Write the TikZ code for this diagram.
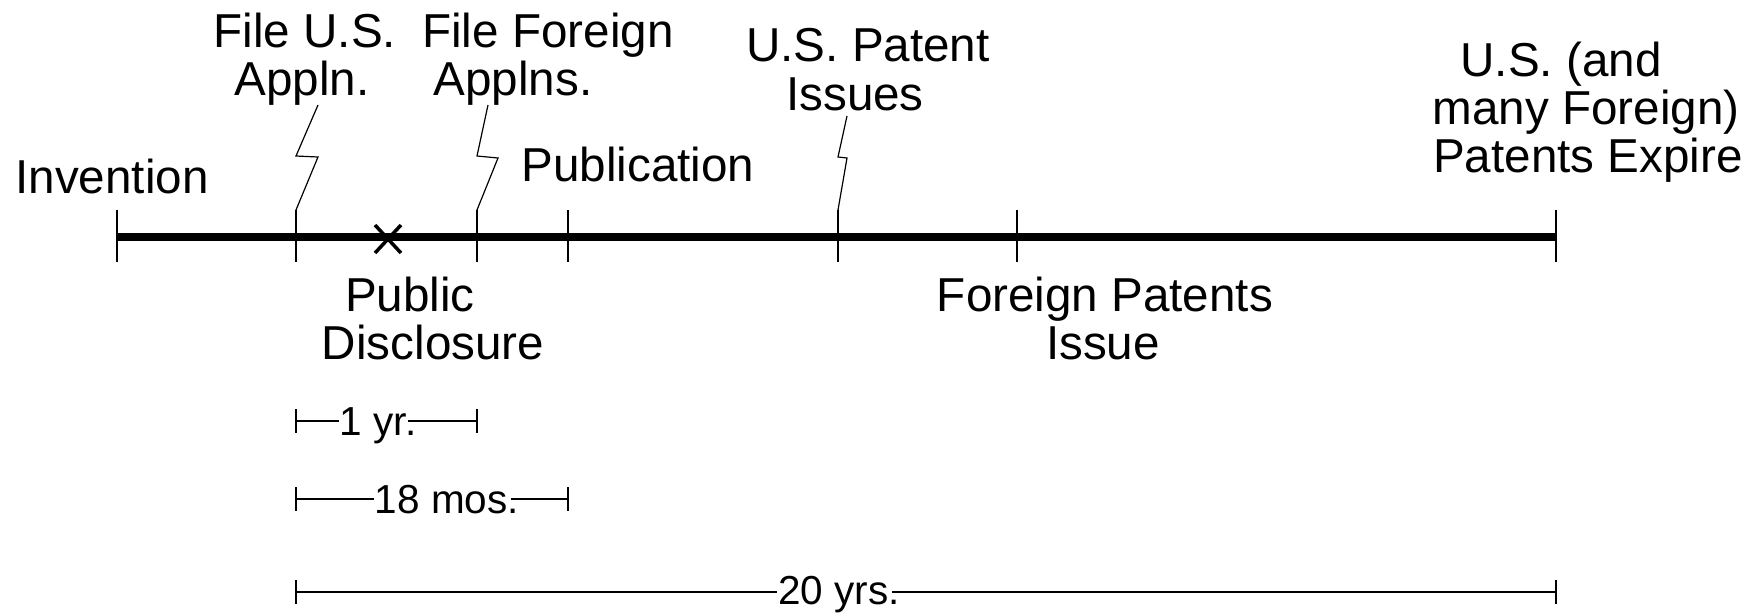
\documentclass[tikz,border=0pt]{standalone}
\usepackage{fontspec}
\setmainfont{Liberation Sans}
\begin{document}
\begin{tikzpicture}[x=1pt,y=-1pt,
  lbl/.style={anchor=base,inner sep=0pt,font=\fontsize{47.6}{48}\selectfont},
  dimlbl/.style={anchor=base,inner sep=0pt,font=\fontsize{40.5}{42}\selectfont},
  thinline/.style={line width=1.2pt},
  axisline/.style={line width=8pt,line cap=butt},
  xmark/.style={line width=3.5pt}]
\useasboundingbox[fill=white] (0,0) rectangle (1752,613);
% timeline points
\coordinate (p0) at (117,237);
\coordinate (p1) at (296,237);
\coordinate (p2) at (477,237);
\coordinate (p3) at (568,237);
\coordinate (p4) at (838,237);
\coordinate (p5) at (1017,237);
\coordinate (p6) at (1556,237);
\draw[axisline] (p0) -- (p6);
\foreach \i in {0,...,6} {
  \draw[thinline] ([yshift=27pt]p\i) -- ([yshift=-25pt]p\i);
}
% x mark (public disclosure)
\coordinate (xm) at (388,239);
\draw[xmark] ([shift={(-13,-14)}]xm) -- ([shift={(13,14)}]xm);
\draw[xmark] ([shift={(-13,14)}]xm) -- ([shift={(13,-14)}]xm);
% labels above
\node[lbl] (inv) at (112,193) {Invention};
\node[lbl] (pub) at (638,181) {Publication};
\node[lbl] (fus1) at (305,47) {File U.S.};
\node[lbl] (fus2) at (302,95) {Appln.};
\node[lbl] (ffo1) at (548,47) {File Foreign};
\node[lbl] (ffo2) at (513,95) {Applns.};
\node[lbl] (usp1) at (868,61) {U.S. Patent};
\node[lbl] (usp2) at (855,110) {Issues};
\node[lbl] (exp1) at (1561,76) {U.S. (and};
\node[lbl] (exp2) at (1586,124) {many Foreign)};
\node[lbl] (exp3) at (1588,172) {Patents Expire};
% labels below
\node[lbl] (pd1) at (410,311) {Public};
\node[lbl] (pd2) at (433,359) {Disclosure};
\node[lbl] (fp1) at (1105,311) {Foreign Patents};
\node[lbl] (fp2) at (1103,359) {Issue};
% leaders
\coordinate (l1) at (318,105);
\coordinate (l2) at (488,105);
\coordinate (l3) at (847,116);
\draw[thinline] ([yshift=27pt]p1) -- (318,157) -- (296,156) -- (l1);
\draw[thinline] ([yshift=27pt]p2) -- (498,158) -- (477,156) -- (l2);
\draw[thinline] ([yshift=27pt]p4) -- (847,158) -- (838,157) -- (l3);
% dimension lines
\coordinate (a1) at (296,421); \coordinate (b1) at (477,421);
\coordinate (a2) at (296,499); \coordinate (b2) at (568,499);
\coordinate (a3) at (296,592); \coordinate (b3) at (1556,592);
\node[dimlbl] (dim1) at (378,435) {1 yr.};
\node[dimlbl] (dim2) at (447,513) {18 mos.};
\node[dimlbl] (dim3) at (839,604) {20 yrs.};
\foreach \n in {1,2,3} {
  \draw[thinline] ([yshift=12pt]a\n) -- ([yshift=-12pt]a\n);
  \draw[thinline] ([yshift=12pt]b\n) -- ([yshift=-12pt]b\n);
  \draw[thinline] (a\n) -- ([xshift=-1pt]dim\n.west |- a\n);
  \draw[thinline] ([xshift=-8pt]dim\n.east |- b\n) -- (b\n);
}
\end{tikzpicture}
\end{document}
